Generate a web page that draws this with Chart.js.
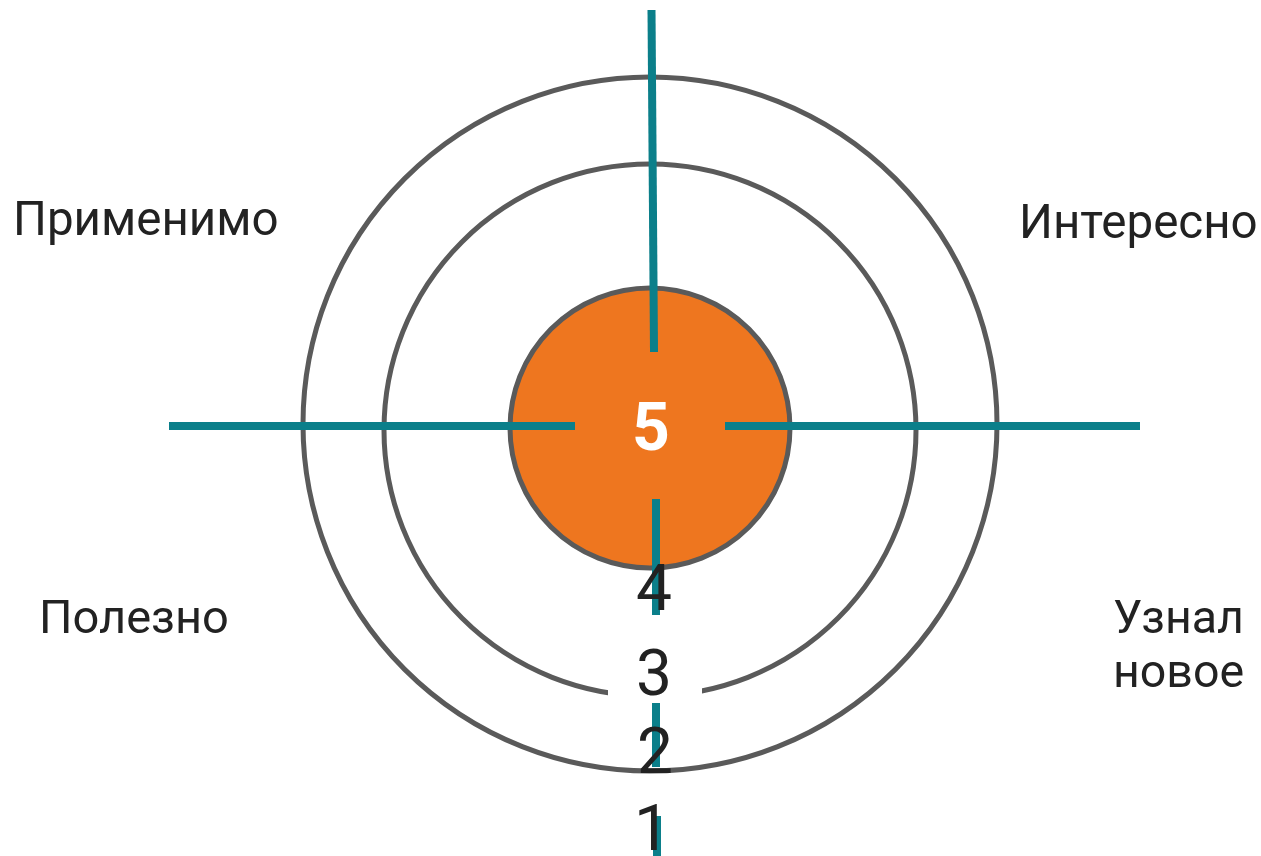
<!DOCTYPE html>
<html>
<head>
<meta charset="utf-8">
<script src="https://cdn.jsdelivr.net/npm/chart.js@4.4.1/dist/chart.umd.min.js"></script>
<style>
  html, body { margin: 0; padding: 0; background: #fff; }
  #wrap { width: 1261px; height: 856px; position: relative; }
</style>
</head>
<body>
<div id="wrap"><canvas id="target"></canvas></div>
<script>
// target rating: 4 criteria round the rings, score 5 in the bullseye, 1 outside
const categories = ['Интересно', 'Узнал новое', 'Полезно', 'Применимо'];
const scores = ['5', '4', '3', '2', '1'];

// rings in chart units: radius and centre height (outer, middle, bullseye)
const ringRadii = [347, 266, 140];
const ringCentreY = [2, -4, -2];

// crosshair arms, each one [start, end] in chart units
const armsH = [[[-481, 0], [-75, 0]], [[75, 0], [490, 0]]];
const armsV = [
  [[1.5, 416], [4, 74]],
  [[6, -73], [6, -189]],
  [[6, -277], [6, -341]],
  [[7, -390], [7, -430]]
];

const GREY = '#5a5a5a';
const TEAL = '#0b7f8a';
const ORANGE = '#ee761f';
const INK = '#222222';

function radiusFromScale(ctx) {
  const sx = ctx.chart.scales.x;
  return Math.abs(sx.getPixelForValue(ctx.raw.rad) - sx.getPixelForValue(0));
}

const ringSets = ringRadii.map((rad, i) => ({
  label: 'ring' + i,
  data: [{ x: 0, y: ringCentreY[i], rad: rad }],
  pointRadius: radiusFromScale,
  pointHoverRadius: radiusFromScale,
  pointBorderWidth: 5,
  pointBorderColor: GREY,
  pointBackgroundColor: i === ringRadii.length - 1 ? ORANGE : 'rgba(0,0,0,0)',
  order: 10 - i
}));

const armSets = armsH.concat(armsV).map((seg, i) => ({
  label: 'arm' + i,
  data: seg.map(p => ({ x: p[0], y: p[1] })),
  showLine: true,
  borderColor: TEAL,
  borderWidth: 8,
  borderCapStyle: 'butt',
  pointRadius: 0,
  pointHoverRadius: 0,
  order: 1
}));

const textPlugin = {
  id: 'targetText',
  afterDatasetsDraw(chart, args, opts) {
    const { ctx, scales: { x, y } } = chart;
    ctx.save();

    // white patch that breaks the middle ring behind the "3"
    const p = opts.patch;
    ctx.fillStyle = '#ffffff';
    ctx.fillRect(x.getPixelForValue(p.x0), y.getPixelForValue(p.y0),
      x.getPixelForValue(p.x1) - x.getPixelForValue(p.x0),
      y.getPixelForValue(p.y1) - y.getPixelForValue(p.y0));

    // criteria names
    ctx.textBaseline = 'alphabetic';
    ctx.textAlign = 'left';
    ctx.fillStyle = INK;
    opts.labels.forEach((l, i) => {
      ctx.font = l.size + 'px Roboto';
      const lines = l.split ? categories[i].split(' ') : [categories[i]];
      lines.forEach((t, k) => {
        ctx.fillText(t, x.getPixelForValue(l.x), y.getPixelForValue(l.y) + k * (l.lh || 0));
      });
    });

    // score numbers down the vertical arm
    ctx.textAlign = 'center';
    opts.scoreAt.forEach((s, i) => {
      ctx.font = (i === 0 ? 'bold ' : '') + s.size + 'px Roboto';
      ctx.fillStyle = i === 0 ? '#ffffff' : INK;
      ctx.fillText(scores[i], x.getPixelForValue(s.x), y.getPixelForValue(s.y));
    });
    ctx.restore();
  }
};

new Chart(document.getElementById('target'), {
  type: 'scatter',
  data: { datasets: ringSets.concat(armSets) },
  options: {
    responsive: true,
    maintainAspectRatio: false,
    devicePixelRatio: 1,
    animation: false,
    events: [],
    layout: { padding: 0 },
    scales: {
      x: { type: 'linear', min: -650, max: 611, display: false },
      y: { type: 'linear', min: -430, max: 426, display: false }
    },
    plugins: {
      legend: { display: false },
      tooltip: { enabled: false },
      targetText: {
        patch: { x0: -42, y0: -214, x1: 52, y1: -275 },
        labels: [
          { x: 369, y: 188, size: 47.5 },
          { x: 463, y: -207, size: 46.5, split: true, lh: 54 },
          { x: -611, y: -207, size: 47 },
          { x: -637, y: 191, size: 47.5 }
        ],
        scoreAt: [
          { x: 1, y: -24, size: 66 },
          { x: 4, y: -184, size: 64 },
          { x: 4, y: -269, size: 64 },
          { x: 5, y: -347, size: 64 },
          { x: 2, y: -424, size: 64 }
        ]
      }
    }
  },
  plugins: [textPlugin]
});
</script>
</body>
</html>
